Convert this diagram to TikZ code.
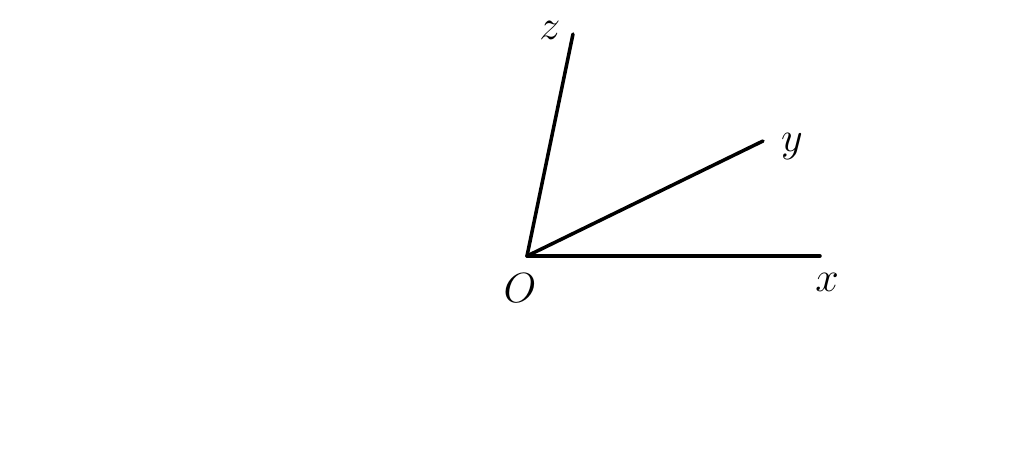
\documentclass[tikz,border=0pt]{standalone}
\usepackage{tikz}
\usetikzlibrary{positioning}
\tikzset{
    %Define style for axis lines
    achse/.style={
           line width=1pt,
           line cap=round},
    % Define style for labels
    beschr/.style={
           inner sep=1pt,
           font=\large}
}
\begin{document}
\begin{tikzpicture}[x=1cm,y=1cm]
         \useasboundingbox (0,0) rectangle (10.24,4.70);
         %points
         \coordinate (O) at (5.27,2.14);
         \coordinate (xend) at (8.20,2.14);
         \coordinate (yend) at (7.63,3.29);
         \coordinate (zend) at (5.73,4.36);
         %axes
         \draw[achse] (O) -- (xend);
         \draw[achse] (O) -- (yend);
         \draw[achse] (O) -- (zend);
         %labels
         \node[beschr] (olab) at (5.20,1.82) {$O$};
         \node[beschr] (xlab) at (8.27,1.88) {$x$};
         \node[beschr] (ylab) at (7.92,3.23) {$y$};
         \node[beschr] (zlab) at (5.50,4.40) {$z$};
\end{tikzpicture}
\end{document}
